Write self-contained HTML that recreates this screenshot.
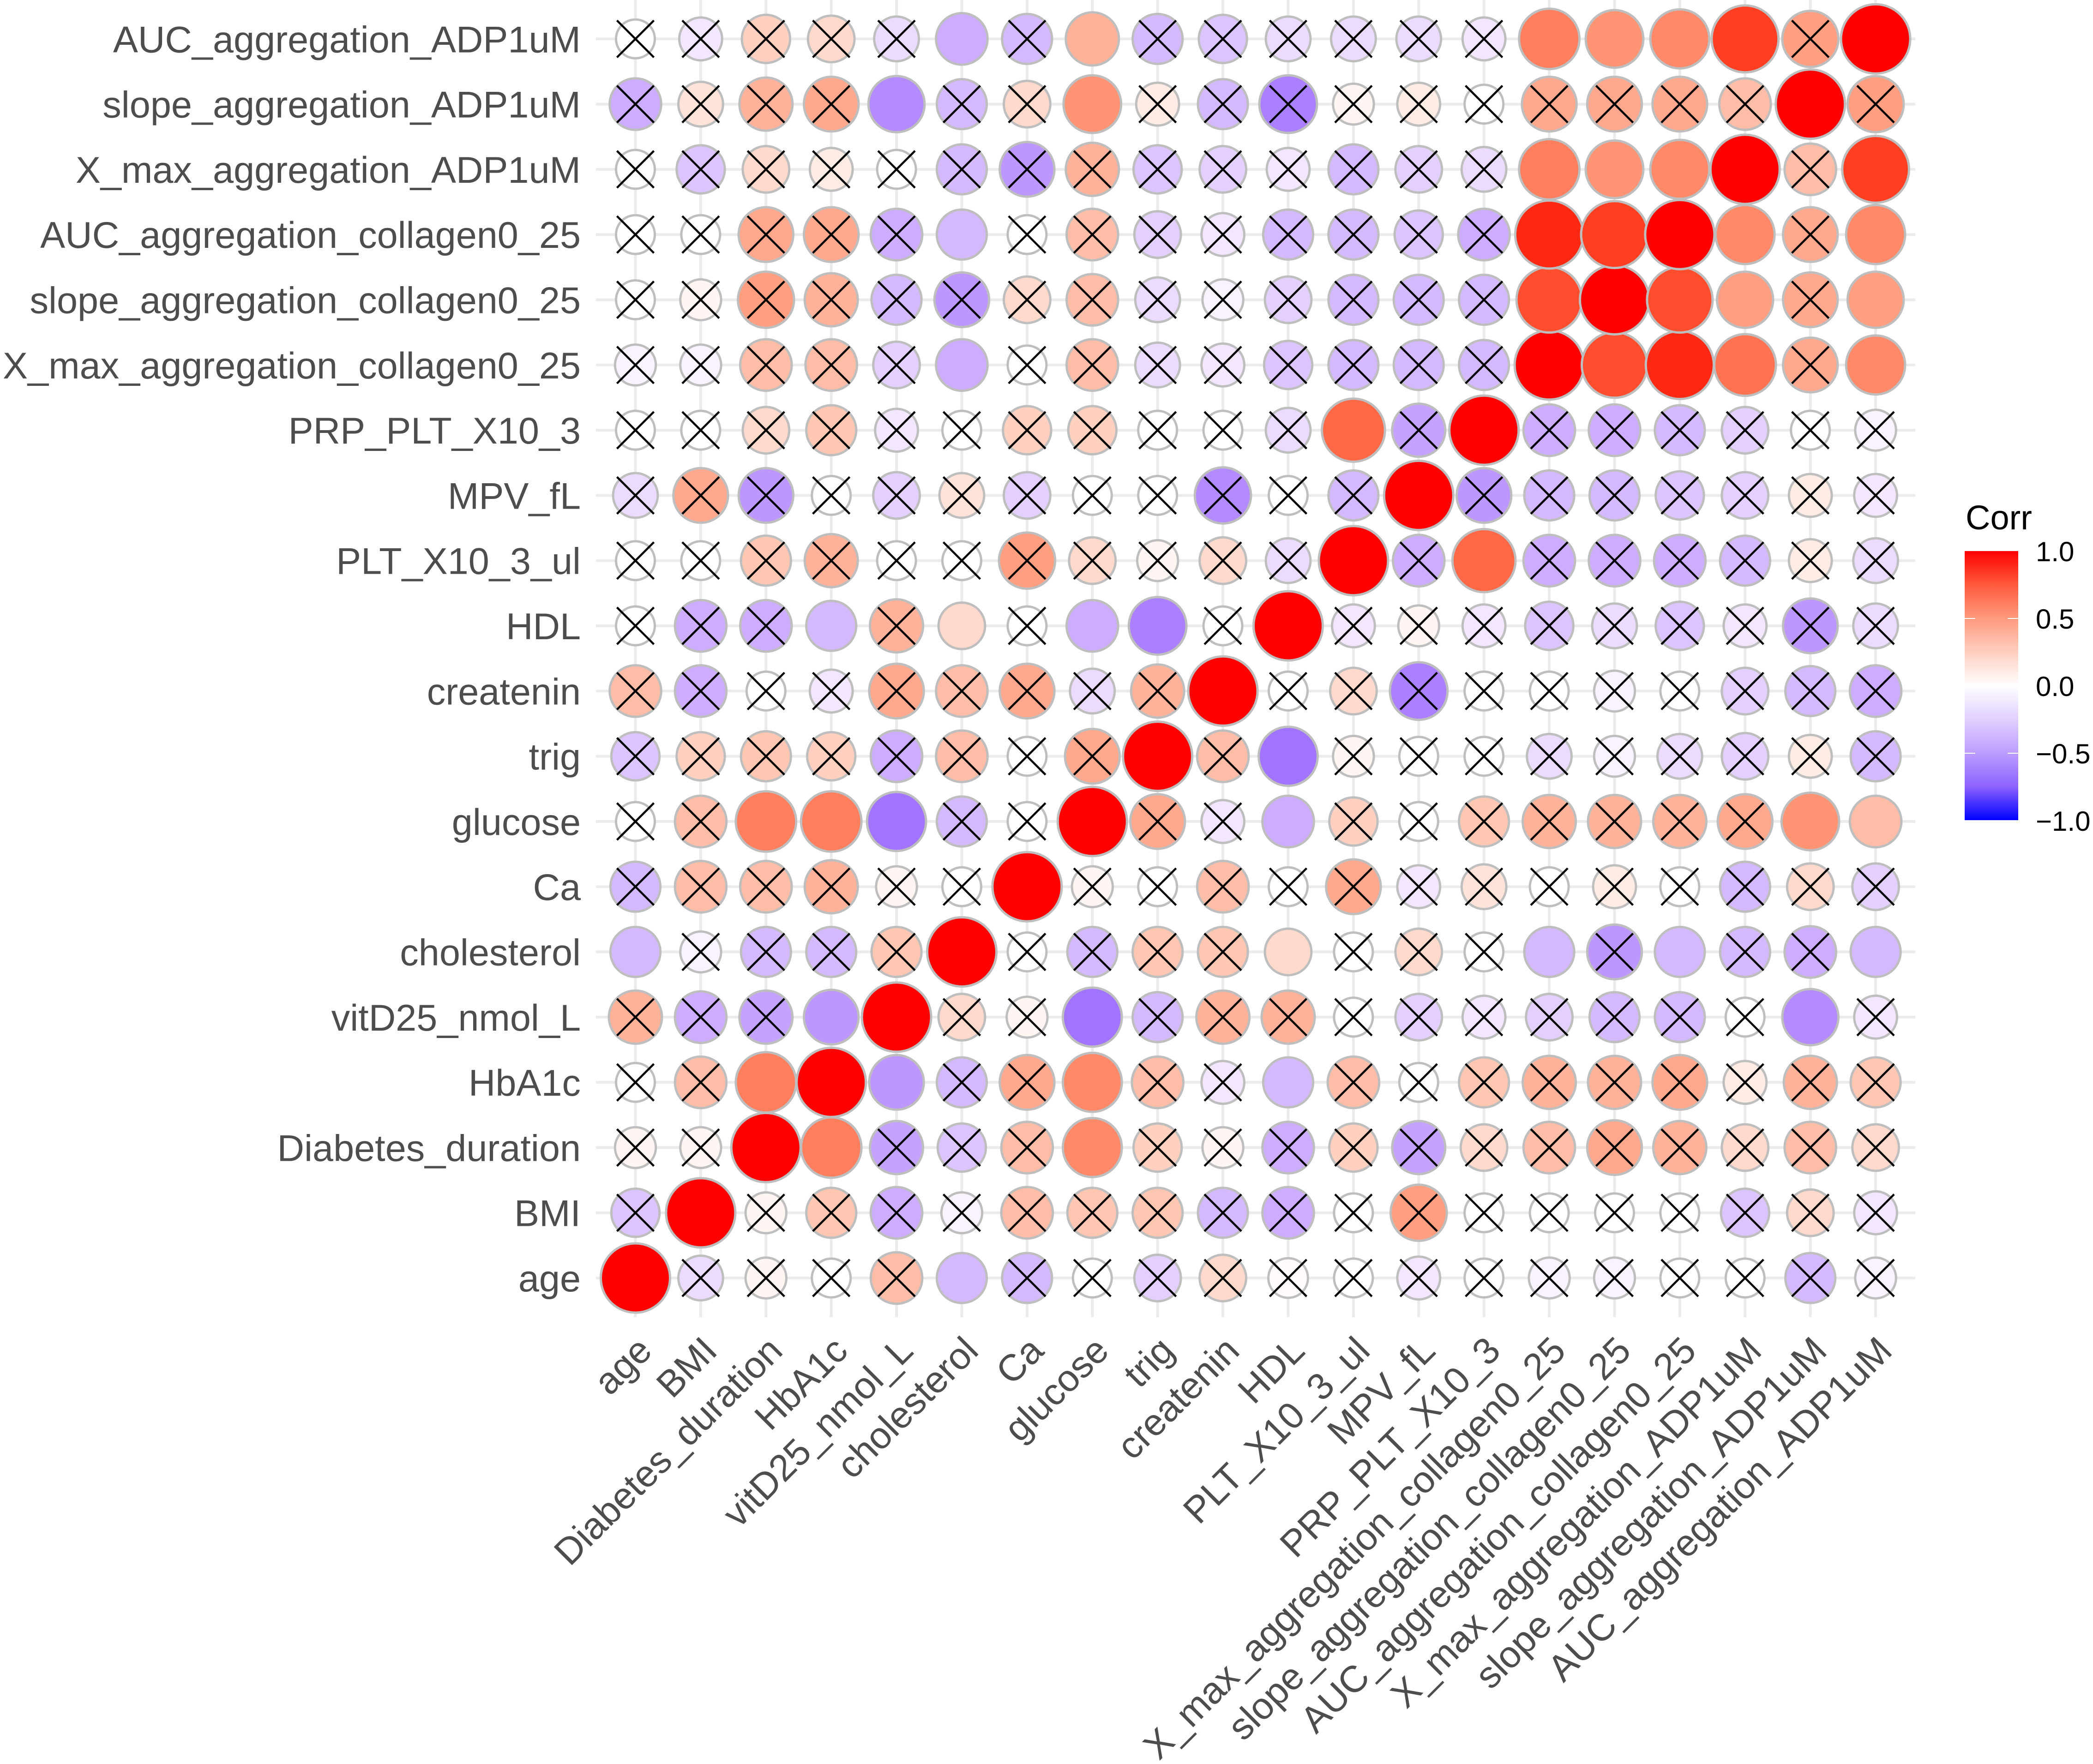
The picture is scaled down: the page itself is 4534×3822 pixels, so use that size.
<!DOCTYPE html>
<html><head><meta charset="utf-8">
<style>
html,body{margin:0;padding:0;background:#fff;}
svg{display:block;font-family:"Liberation Sans",sans-serif;}
</style></head>
<body>
<svg id="chart" width="4534" height="3822" viewBox="0 0 4534 3822" xmlns="http://www.w3.org/2000/svg">
<g id="grid"></g>
<g id="cells"></g>
<g id="ylabels"></g>
<g id="xlabels"></g>
<g id="legend">
  <defs>
    <linearGradient id="lg" x1="0" y1="0" x2="0" y2="1">
      <stop offset="0" stop-color="#FF0000"/>
      <stop offset="0.125" stop-color="#FF5A3C"/>
      <stop offset="0.25" stop-color="#FF9A7E"/>
      <stop offset="0.375" stop-color="#FFCEBF"/>
      <stop offset="0.5" stop-color="#FFFFFF"/>
      <stop offset="0.625" stop-color="#E0D0FF"/>
      <stop offset="0.75" stop-color="#BC9CFF"/>
      <stop offset="0.875" stop-color="#8D62FF"/>
      <stop offset="1" stop-color="#0000FF"/>
    </linearGradient>
  </defs>
  <text x="4258" y="1147" font-size="74" fill="#000">Corr</text>
  <rect x="4256" y="1194" width="116" height="583" fill="url(#lg)"/>
  <line x1="4256" x2="4279" y1="1340" y2="1340" stroke="#fff" stroke-width="2"/>
  <line x1="4349" x2="4372" y1="1340" y2="1340" stroke="#fff" stroke-width="2"/>
  <line x1="4256" x2="4279" y1="1632" y2="1632" stroke="#fff" stroke-width="2"/>
  <line x1="4349" x2="4372" y1="1632" y2="1632" stroke="#fff" stroke-width="2"/>
  <g font-size="60" fill="#000">
    <text x="4410" y="1216">1.0</text>
    <text x="4410" y="1362">0.5</text>
    <text x="4410" y="1508">0.0</text>
    <text x="4410" y="1654">−0.5</text>
    <text x="4410" y="1800">−1.0</text>
  </g>
</g>
</svg>
<script>
const variables = ["age","BMI","Diabetes_duration","HbA1c","vitD25_nmol_L","cholesterol","Ca","glucose","trig","createnin","HDL","PLT_X10_3_ul","MPV_fL","PRP_PLT_X10_3","X_max_aggregation_collagen0_25","slope_aggregation_collagen0_25","AUC_aggregation_collagen0_25","X_max_aggregation_ADP1uM","slope_aggregation_ADP1uM","AUC_aggregation_ADP1uM"];
const row_age = [1,-0.15,0.05,0,0.35,-0.3,-0.3,0,-0.2,0.2,0.02,0,-0.1,0,-0.05,-0.05,0,0,-0.3,-0.05];
const row_BMI = [-0.25,1,0.05,0.3,-0.35,-0.05,0.35,0.3,0.3,-0.3,-0.35,0,0.5,0,0,0,0,-0.25,0.2,-0.1];
const row_Diab = [0.05,0.05,1,0.65,-0.4,-0.25,0.35,0.6,0.25,0.05,-0.35,0.25,-0.4,0.2,0.35,0.45,0.4,0.2,0.35,0.2];
const row_HbA1c = [0,0.35,0.65,1,-0.45,-0.3,0.45,0.6,0.35,-0.1,-0.3,0.35,0,0.3,0.4,0.4,0.45,0.1,0.4,0.3];
const row_vitD = [0.4,-0.35,-0.4,-0.45,1,0.2,0.05,-0.6,-0.3,0.4,0.4,0,-0.2,-0.1,-0.2,-0.3,-0.3,0,-0.5,-0.1];
const row_chol = [-0.3,-0.05,-0.3,-0.3,0.3,1,0,-0.3,0.3,0.3,0.2,0,0.2,0,-0.3,-0.45,-0.3,-0.3,-0.35,-0.3];
const row_Ca = [-0.3,0.35,0.35,0.4,0.05,0,1,0.05,0,0.35,0,0.45,-0.1,0.15,0,0.1,0,-0.3,0.2,-0.2];
const row_glucose = [0,0.35,0.65,0.65,-0.6,-0.3,0,1,0.45,-0.1,-0.35,0.25,0,0.3,0.4,0.4,0.4,0.45,0.55,0.35];
const row_trig = [-0.25,0.25,0.3,0.25,-0.35,0.35,0,0.45,1,0.35,-0.6,0.05,0,0,-0.15,-0.05,-0.15,-0.2,0.1,-0.3];
const row_creat = [0.35,-0.35,0,-0.1,0.45,0.35,0.45,-0.15,0.4,1,0,0.2,-0.55,0,0,-0.05,0,-0.2,-0.3,-0.35];
const row_HDL = [0,-0.35,-0.35,-0.3,0.4,0.2,0,-0.35,-0.55,0,1,-0.1,0.05,-0.1,-0.25,-0.15,-0.25,-0.1,-0.45,-0.15];
const row_PLT = [0,0,0.3,0.4,0,0,0.5,0.2,0.05,0.2,-0.15,1,-0.35,0.75,-0.35,-0.35,-0.35,-0.3,0.1,-0.15];
const row_MPV = [-0.15,0.45,-0.45,0,-0.2,0.15,-0.2,0,0,-0.5,0,-0.3,1,-0.45,-0.3,-0.3,-0.25,-0.2,0.1,-0.1];
const row_PRP = [0,0,0.2,0.3,-0.1,0,0.25,0.25,0,0,-0.15,0.75,-0.4,1,-0.35,-0.35,-0.3,-0.2,0,-0.05];
const row_XmaxCol = [-0.05,-0.05,0.35,0.35,-0.2,-0.35,0,0.35,-0.15,-0.1,-0.25,-0.3,-0.3,-0.3,1,0.85,0.95,0.7,0.45,0.6];
const row_slopeCol = [0,0.05,0.5,0.4,-0.3,-0.45,0.2,0.35,-0.15,-0.05,-0.2,-0.3,-0.3,-0.3,0.85,1,0.85,0.5,0.45,0.5];
const row_AUCCol = [0,0,0.45,0.45,-0.35,-0.3,0,0.35,-0.2,-0.1,-0.3,-0.3,-0.25,-0.35,0.95,0.9,1,0.6,0.45,0.6];
const row_XmaxADP = [0,-0.25,0.2,0.1,0,-0.3,-0.45,0.4,-0.25,-0.2,-0.1,-0.3,-0.2,-0.15,0.65,0.55,0.6,1,0.35,0.9];
const row_slopeADP = [-0.35,0.15,0.4,0.45,-0.5,-0.3,0.2,0.55,0.1,-0.3,-0.55,0.05,0.1,0,0.45,0.45,0.45,0.35,1,0.5];
const row_AUCADP = [0,-0.1,0.25,0.2,-0.15,-0.35,-0.3,0.4,-0.3,-0.25,-0.15,-0.15,-0.15,-0.1,0.65,0.55,0.6,0.9,0.5,1];
const corrRows = [row_age,row_BMI,row_Diab,row_HbA1c,row_vitD,row_chol,row_Ca,row_glucose,row_trig,row_creat,row_HDL,row_PLT,row_MPV,row_PRP,row_XmaxCol,row_slopeCol,row_AUCCol,row_XmaxADP,row_slopeADP,row_AUCADP];
const insignificant = [
"01111011111111111111",
"10111111111111111111",
"11001110111111111111",
"11000110110111111111",
"11100110111111111101",
"01111011110111010110",
"11111101111111111111",
"11000110110111111100",
"11111111010111111111",
"11111111101111111111",
"11101010010111111111",
"11111111111010111111",
"11111111111101111111",
"11111111111010111111",
"11111011111111000010",
"11111111111111000010",
"11111011111111000010",
"11111111111111000010",
"11110110111111111101",
"11111010111111000010"];

const NS="http://www.w3.org/2000/svg";
const n = variables.length;
const xScale = j => 1376.5 + j*141.4;
const yScale = i => 2769 - i*141.3;
const rScale = c => Math.sqrt(42*42 + (75*75-42*42)*Math.abs(c));

function srgb2lin(c){c/=255;return c<=0.04045?c/12.92:Math.pow((c+0.055)/1.055,2.4);}
function lin2srgb(c){c=c<=0.0031308?12.92*c:1.055*Math.pow(c,1/2.4)-0.055;return Math.max(0,Math.min(255,Math.round(c*255)));}
function toLab(rgb){const [r,g,b]=rgb.map(srgb2lin);
 let X=(0.4124*r+0.3576*g+0.1805*b)/0.95047,Y=0.2126*r+0.7152*g+0.0722*b,Z=(0.0193*r+0.1192*g+0.9505*b)/1.08883;
 const f=t=>t>0.008856?Math.cbrt(t):7.787*t+16/116;
 const fx=f(X),fy=f(Y),fz=f(Z);return [116*fy-16,500*(fx-fy),200*(fy-fz)];}
function fromLab(l){const fy=(l[0]+16)/116,fx=fy+l[1]/500,fz=fy-l[2]/200;
 const fi=t=>t*t*t>0.008856?t*t*t:(t-16/116)/7.787;
 const X=fi(fx)*0.95047,Y=fi(fy),Z=fi(fz)*1.08883;
 const r=3.2406*X-1.5372*Y-0.4986*Z,g=-0.9689*X+1.8758*Y+0.0415*Z,b=0.0557*X-0.2040*Y+1.0570*Z;
 return `rgb(${lin2srgb(r)},${lin2srgb(g)},${lin2srgb(b)})`;}
const labW=toLab([255,255,255]),labR=toLab([255,0,0]),labB=toLab([0,0,255]);
function colorOf(c){const t=Math.min(1,Math.abs(c));const e=c>=0?labR:labB;
 return fromLab([0,1,2].map(k=>labW[k]+(e[k]-labW[k])*t));}

const grid=document.getElementById('grid');
for(let k=0;k<n;k++){
  const v=document.createElementNS(NS,'line');
  
  
  v.setAttribute('x1',xScale(k));v.setAttribute('x2',xScale(k));v.setAttribute('y1',0);v.setAttribute('y2',2854);
  v.setAttribute('stroke','#ebebeb');v.setAttribute('stroke-width','6');grid.appendChild(v);
  const h=document.createElementNS(NS,'line');
  
  
  h.setAttribute('x1',1291);h.setAttribute('x2',4149);h.setAttribute('y1',yScale(k));h.setAttribute('y2',yScale(k));
  h.setAttribute('stroke','#ebebeb');h.setAttribute('stroke-width','6');grid.appendChild(h);
}
const cells=document.getElementById('cells');
for(let i=0;i<n;i++){for(let j=0;j<n;j++){
  const c=corrRows[i][j],cx=xScale(j),cy=yScale(i);
  const g=document.createElementNS(NS,'g');
  
  
  const ci=document.createElementNS(NS,'circle');
  
  
  ci.setAttribute('cx',cx);ci.setAttribute('cy',cy);ci.setAttribute('r',rScale(c).toFixed(1));
  ci.setAttribute('fill',colorOf(c));ci.setAttribute('stroke','#bebebe');ci.setAttribute('stroke-width','5');
  g.appendChild(ci);
  if(insignificant[i][j]==='1'){
    const d=40;
    [[-d,-d,d,d],[-d,d,d,-d]].forEach(p=>{
      const l=document.createElementNS(NS,'line');
      
      
      l.setAttribute('x1',cx+p[0]);l.setAttribute('y1',cy+p[1]);l.setAttribute('x2',cx+p[2]);l.setAttribute('y2',cy+p[3]);
      l.setAttribute('stroke','#000');l.setAttribute('stroke-width','4.5');g.appendChild(l);
    });
  }
  cells.appendChild(g);
}}
const yl=document.getElementById('ylabels'),xl=document.getElementById('xlabels');
for(let k=0;k<n;k++){
  const t=document.createElementNS(NS,'text');
  
  
  t.setAttribute('x',1258);t.setAttribute('y',yScale(k)+29);t.setAttribute('text-anchor','end');
  t.setAttribute('font-size','81');t.setAttribute('fill','#4d4d4d');t.textContent=variables[k];yl.appendChild(t);
  const s=document.createElementNS(NS,'text');
  
  
  const ax=xScale(k)+40,ay=2931;
  s.setAttribute('x',ax);s.setAttribute('y',ay);s.setAttribute('text-anchor','end');
  s.setAttribute('transform',`rotate(-45 ${ax} ${ay})`);
  s.setAttribute('font-size','81');s.setAttribute('fill','#4d4d4d');s.textContent=variables[k];xl.appendChild(s);
}
</script>
</body></html>
